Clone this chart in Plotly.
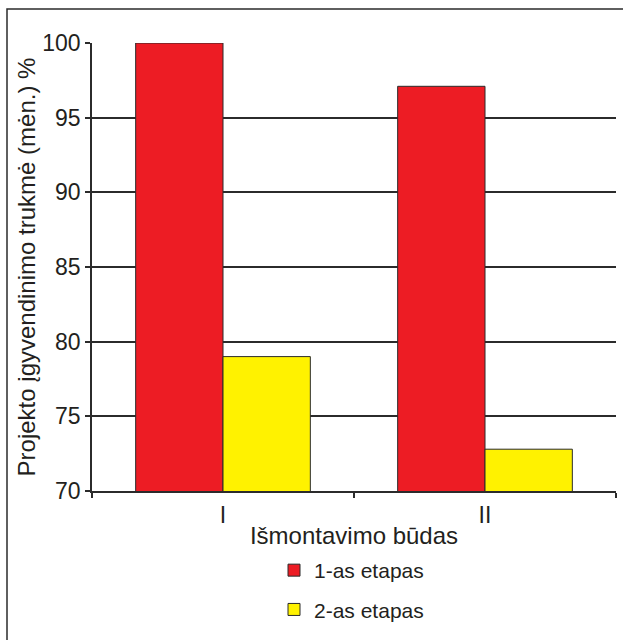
import plotly.graph_objects as go

# Dismantling methods (categories) and project duration per stage, %
methods = ["I", "II"]
stage1 = [100, 97.1]
stage2 = [79.0, 72.8]
series_names = ["1-as etapas", "2-as etapas"]
y_ticks = [70, 75, 80, 85, 90, 95, 100]

TEXT = "#231F20"
LINE = "#2b2b2b"
FONT = "Liberation Sans, Arial, sans-serif"

fig = go.Figure()
fig.add_trace(go.Bar(
    x=methods, y=stage1, name=series_names[0],
    marker=dict(color="#ED1C24", line=dict(color=LINE, width=1)),
    legendgroup="a",
))
fig.add_trace(go.Bar(
    x=methods, y=stage2, name=series_names[1],
    marker=dict(color="#FFF200", line=dict(color=LINE, width=1)),
    legendgroup="b",
))

W, H = 623, 640
L, R, T, B = 92, 7, 43, 149
pw, ph = W - L - R, H - T - B

fig.update_layout(
    width=W, height=H,
    margin=dict(l=L, r=R, t=T, b=B, autoexpand=False),
    paper_bgcolor="white", plot_bgcolor="white",
    font=dict(family=FONT, color=TEXT),
    barmode="group", bargap=1/3, bargroupgap=0,
    showlegend=True,
    legend=dict(
        x=(274 - L) / pw, xanchor="left",
        y=1 - (550 - T) / ph, yanchor="top",
        font=dict(size=21, color=TEXT),
        tracegroupgap=9,
        bgcolor="rgba(0,0,0,0)",
    ),
    xaxis=dict(
        type="category",
        tickson="boundaries", ticks="outside", ticklen=5, tickcolor=LINE, tickwidth=1.5,
        ticklabelstandoff=3,
        showline=True, linecolor=LINE, linewidth=1.5,
        tickfont=dict(size=23, color=TEXT),
        title=dict(text="Išmontavimo būdas", font=dict(size=24, color=TEXT), standoff=0),
        showgrid=False,
    ),
    yaxis=dict(
        range=[70, 100], tickvals=y_ticks,
        ticks="outside", ticklen=5, tickcolor=LINE, tickwidth=1.5,
        showline=True, linecolor=LINE, linewidth=1.5,
        showgrid=True, gridcolor=LINE, gridwidth=1.5,
        tickfont=dict(size=23, color=TEXT),
        title=dict(text="Projekto įgyvendinimo trukmė (mėn.) %",
                   font=dict(size=24, color=TEXT), standoff=0),
        zeroline=False,
    ),
)

# outer frame around the figure
fig.add_shape(
    type="rect", xref="paper", yref="paper",
    x0=(7 - L) / pw, x1=1.2, y0=-0.6, y1=1 + (T - 9) / ph,
    line=dict(color=LINE, width=1.5), fillcolor="rgba(0,0,0,0)", layer="below",
)

fig.write_html("out.html")
